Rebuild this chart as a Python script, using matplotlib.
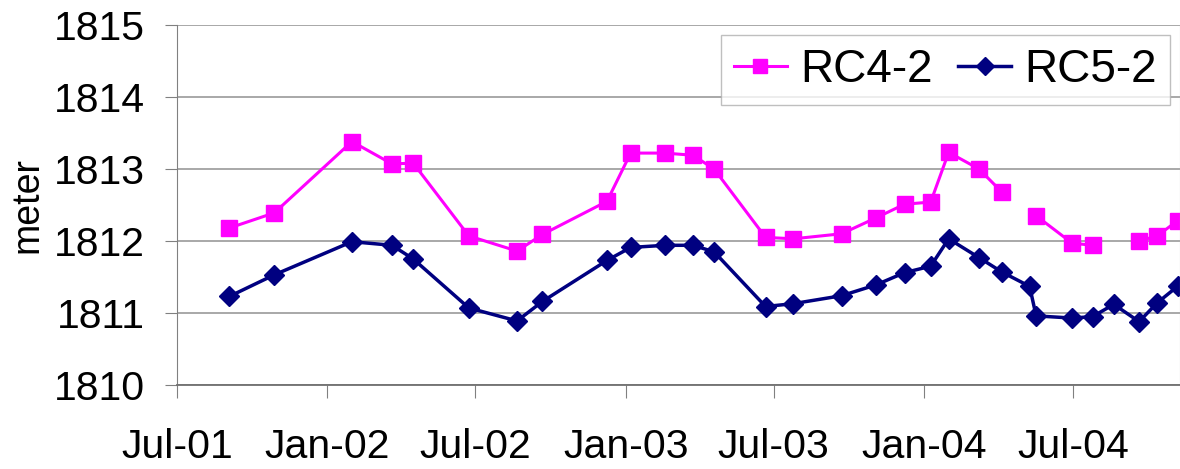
import numpy as np
import pandas as pd
import matplotlib
matplotlib.use('Agg')
import matplotlib.pyplot as plt
import matplotlib.dates as mdates

plt.rcParams['font.family'] = ['Liberation Sans', 'DejaVu Sans']

dates = ['2001-09-03', '2001-10-28', '2002-01-31', '2002-03-21', '2002-04-16',
         '2002-06-23', '2002-08-21', '2002-09-21', '2002-12-09', '2003-01-07',
         '2003-02-18', '2003-03-24', '2003-04-19', '2003-06-21', '2003-07-25',
         '2003-09-22', '2003-11-03', '2003-12-08', '2004-01-09', '2004-01-31',
         '2004-03-08', '2004-04-05', '2004-05-09', '2004-05-17', '2004-06-30',
         '2004-07-25', '2004-08-20', '2004-09-20', '2004-10-12', '2004-11-06']
rc4_2 = [1812.18, 1812.39, 1813.38, 1813.07, 1813.08, 1812.07, 1811.86, 1812.09,
         1812.55, 1813.22, 1813.22, 1813.19, 1813.00, 1812.05, 1812.03, 1812.10,
         1812.32, 1812.51, 1812.54, 1813.23, 1813.00, 1812.68, np.nan, 1812.35,
         1811.97, 1811.94, np.nan, 1812.00, 1812.07, 1812.28]
rc5_2 = [1811.23, 1811.53, 1811.99, 1811.94, 1811.75, 1811.07, 1810.89, 1811.16,
         1811.73, 1811.91, 1811.94, 1811.94, 1811.85, 1811.09, 1811.13, 1811.24,
         1811.39, 1811.56, 1811.65, 1812.03, 1811.77, 1811.57, 1811.37, 1810.96,
         1810.93, 1810.95, 1811.12, 1810.88, 1811.14, 1811.37]

df = pd.DataFrame({'date': pd.to_datetime(dates), 'RC4-2': rc4_2, 'RC5-2': rc5_2})

fig = plt.figure(figsize=(11.8, 4.69), dpi=100)
ax = fig.add_axes([0.15, 0.179, 0.85, 0.768])

ax.plot(df['date'], df['RC4-2'], color='#FF00FF', linewidth=2.2, marker='s',
        markersize=11, label='RC4-2')
ax.plot(df['date'], df['RC5-2'], color='#000080', linewidth=2.5, marker='D',
        markersize=10, label='RC5-2')

ax.set_ylim(1810, 1815)
ax.set_yticks(range(1810, 1816))
ax.set_xlim(pd.Timestamp('2001-07-01'), pd.Timestamp('2004-11-09'))
ax.xaxis.set_major_locator(mdates.MonthLocator(bymonth=[1, 7]))
ax.xaxis.set_major_formatter(mdates.DateFormatter('%b-%y'))

ax.grid(axis='y', color='#999999', linewidth=1.2)
ax.set_axisbelow(True)
ax.spines['top'].set_visible(False)
ax.spines['left'].set_color('#808080')
ax.spines['right'].set_color('#c0c0c0')
ax.spines['bottom'].set_color('#707070')
ax.spines['bottom'].set_linewidth(1.3)
ax.tick_params(axis='y', length=9, color='#808080', labelsize=29.5, pad=14)
ax.tick_params(axis='x', length=9, color='#808080', labelsize=29.5, pad=22)

ax.set_ylabel('meter', fontsize=27, labelpad=6)

leg = ax.legend(loc='upper right', ncol=2, fontsize=33, frameon=True, fancybox=False,
                borderpad=0.28, borderaxespad=0, handlelength=1.15, handletextpad=0.3,
                columnspacing=0.55, markerscale=0.95,
                bbox_to_anchor=(0.990, 0.972))
leg.get_frame().set_edgecolor('#b0b0b0')
leg.get_frame().set_linewidth(1.0)

fig.savefig('out.png', dpi=100)
